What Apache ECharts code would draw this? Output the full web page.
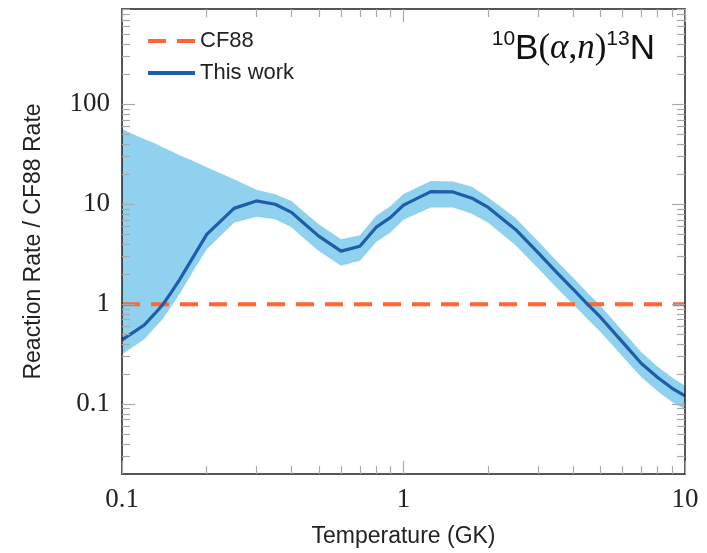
<!DOCTYPE html>
<html>
<head>
<meta charset="utf-8">
<script src="https://cdn.jsdelivr.net/npm/echarts@6/dist/echarts.min.js"></script>
<style>
  html, body { margin: 0; padding: 0; background: #fff; }
  #chart { width: 707px; height: 553px; }
</style>
</head>
<body>
<div id="chart"></div>
<script>
// temperature grid (GK)
const temps = [0.1, 0.11, 0.12, 0.13, 0.14, 0.15, 0.16, 0.18, 0.2, 0.25, 0.3, 0.35, 0.4, 0.45, 0.5,
  0.6, 0.7, 0.8, 0.9, 1.0, 1.25, 1.5, 1.75, 2, 2.5, 3, 3.5, 4, 4.5, 5, 6, 7, 8, 9, 10];
// rate ratio, this work / CF88
const ratioMedian = [0.44, 0.525, 0.62, 0.79, 1.0, 1.33, 1.75, 3.05, 5.0, 9.1, 10.8, 10.0, 8.3, 6.2, 4.8,
  3.4, 3.8, 5.9, 7.4, 9.8, 13.4, 13.3, 11.5, 9.3, 5.6, 3.3, 2.08, 1.42, 1.0, 0.746, 0.417, 0.255, 0.185, 0.144, 0.121];
const ratioHigh = [57, 50, 45, 41, 37, 34, 31, 27, 23.5, 17.8, 14, 12.6, 10.8, 8.1, 6.3,
  4.47, 4.9, 7.7, 9.6, 12.7, 17.1, 16.9, 15, 11.7, 7.3, 4.3, 2.7, 1.85, 1.3, 0.97, 0.54, 0.33, 0.237, 0.185, 0.153];
const ratioLow = [0.316, 0.378, 0.446, 0.57, 0.72, 0.96, 1.26, 2.2, 3.55, 6.55, 7.5, 7.1, 5.9, 4.4, 3.4,
  2.42, 2.72, 4.2, 5.25, 7.0, 9.27, 9.3, 8.05, 6.55, 3.9, 2.3, 1.46, 1.0, 0.71, 0.53, 0.3, 0.186, 0.135, 0.105, 0.089];
// CF88 reference (ratio = 1)
const cf88T = [0.1, 10];
const cf88Ratio = [1, 1];

// ticks
const xMajor = [0.1, 1, 10];
const xMinor = [0.2, 0.3, 0.4, 0.5, 0.6, 0.7, 0.8, 0.9, 2, 3, 4, 5, 6, 7, 8, 9];
const yMajor = [0.1, 1, 10, 100];
const yMinor = [0.03, 0.04, 0.05, 0.06, 0.07, 0.08, 0.09, 0.2, 0.3, 0.4, 0.5, 0.6, 0.7, 0.8, 0.9,
  2, 3, 4, 5, 6, 7, 8, 9, 20, 30, 40, 50, 60, 70, 80, 90, 200, 300, 400, 500, 600, 700, 800, 900];

const X_MIN = 0.1, X_MAX = 10, Y_MIN = 0.02, Y_MAX = 900;
const SANS = "Liberation Sans";
const SERIF = "Liberation Serif";

function axis(kind, pos, ticks, len, labels, line, extra) {
  return Object.assign({
    type: "log",
    logBase: 10,
    min: kind === "x" ? X_MIN : Y_MIN,
    max: kind === "x" ? X_MAX : Y_MAX,
    position: pos,
    z: 10,
    axisLine: { show: line, onZero: false, lineStyle: { color: "#1e1e1e", width: 1.5 } },
    axisTick: { show: true, inside: true, length: len, customValues: ticks,
      lineStyle: { color: "#a8a8a8", width: 1.2 } },
    minorTick: { show: false },
    axisLabel: {
      show: labels,
      customValues: ticks,
      margin: 12,
      fontFamily: SERIF,
      fontSize: 27,
      color: "#222",
      formatter: (v) => String(+v.toPrecision(6)),
    },
    splitLine: { show: false },
  }, extra || {});
}

const chart = echarts.init(document.getElementById("chart"));

chart.setOption({
  animation: false,
  backgroundColor: "#fff",
  title: {
    text: "{s|10}{b|B}{p|(}{m|α}{p|,}{m|n}{p|)}{s|13}{b|N}",
    right: 47,
    top: 24,
    textStyle: {
      fontWeight: "normal",
      rich: {
        s: { fontFamily: SANS, fontWeight: "normal", fontSize: 21, lineHeight: 21, verticalAlign: "top", color: "#111" },
        b: { fontFamily: SANS, fontWeight: "normal", fontSize: 35, lineHeight: 40, color: "#111" },
        p: { fontFamily: SERIF, fontWeight: "normal", fontSize: 35, lineHeight: 40, color: "#111" },
        m: { fontFamily: SERIF, fontWeight: "normal", fontStyle: "italic", fontSize: 35, lineHeight: 40, color: "#111" },
      },
    },
  },
  legend: {
    orient: "vertical",
    left: 143,
    top: 24,
    itemWidth: 47,
    itemHeight: 4,
    itemGap: 8,
    data: [
      { name: "CF88", icon: "path://M0,0h18v4h-18z M29,0h18v4h-18z" },
      { name: "This work", icon: "path://M0,0h47v4h-47z" },
    ],
    textStyle: { fontFamily: SANS, fontSize: 22, lineHeight: 24, color: "#222" },
  },
  grid: { left: 122, right: 22, top: 9, bottom: 78, containLabel: false },
  xAxis: [
    axis("x", "bottom", xMajor, 13, true, true, {
      name: "Temperature (GK)",
      nameLocation: "middle",
      nameGap: 51,
      nameTextStyle: { fontFamily: SANS, fontSize: 23, color: "#222" },
    }),
    axis("x", "top", xMajor, 13, false, true),
    axis("x", "bottom", xMinor, 8, false, false),
    axis("x", "top", xMinor, 8, false, false),
  ],
  yAxis: [
    axis("y", "left", yMajor, 13, true, true, {
      name: "Reaction Rate / CF88 Rate",
      nameLocation: "middle",
      nameGap: 77,
      nameTextStyle: { fontFamily: SANS, fontSize: 23, color: "#222" },
    }),
    axis("y", "right", yMajor, 13, false, true),
    axis("y", "left", yMinor, 8, false, false),
    axis("y", "right", yMinor, 8, false, false),
  ],
  series: [
    {
      name: "band",
      type: "custom",
      xAxisIndex: 0,
      yAxisIndex: 0,
      z: 1,
      silent: true,
      data: [[1, 1]],
      renderItem: function (params, api) {
        const pts = [];
        for (let i = 0; i < temps.length; i++) pts.push(api.coord([temps[i], ratioHigh[i]]));
        for (let i = temps.length - 1; i >= 0; i--) pts.push(api.coord([temps[i], ratioLow[i]]));
        return { type: "polygon", shape: { points: pts }, style: { fill: "#8fd1ee" } };
      },
    },
    {
      name: "CF88",
      type: "line",
      xAxisIndex: 0,
      yAxisIndex: 0,
      z: 3,
      symbol: "none",
      data: cf88T.map((t, i) => [t, cf88Ratio[i]]),
      color: "#ff6633",
      lineStyle: { color: "#ff6633", width: 4, type: [18, 11] },
    },
    {
      name: "This work",
      type: "line",
      xAxisIndex: 0,
      yAxisIndex: 0,
      z: 4,
      symbol: "none",
      data: temps.map((t, i) => [t, ratioMedian[i]]),
      color: "#1c5fa8",
      lineStyle: { color: "#1c5fa8", width: 3.2 },
    },
  ],
});
</script>
</body>
</html>
